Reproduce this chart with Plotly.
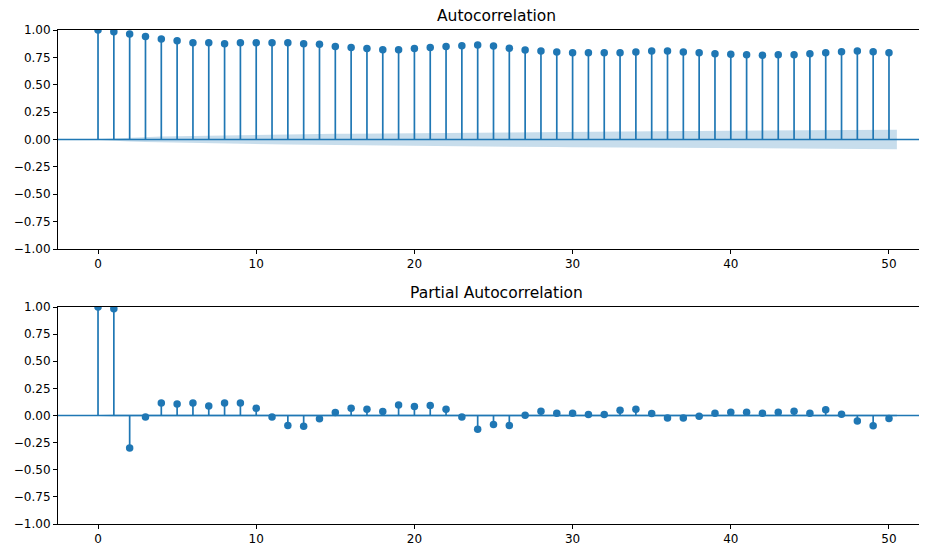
import plotly.graph_objects as go

# ---------------- data ----------------
lags = list(range(0, 51))

acf_values = [
    1.000, 0.985, 0.963, 0.940, 0.918, 0.902, 0.884, 0.884, 0.875, 0.884,
    0.884, 0.884, 0.884, 0.875, 0.870, 0.850, 0.840, 0.830, 0.820, 0.820,
    0.830, 0.840, 0.850, 0.857, 0.863, 0.854, 0.833, 0.817, 0.808, 0.800,
    0.793, 0.793, 0.793, 0.793, 0.800, 0.808, 0.808, 0.800, 0.793, 0.784,
    0.778, 0.775, 0.769, 0.775, 0.775, 0.784, 0.793, 0.802, 0.808, 0.802,
    0.793,
]

# half-width of the shaded confidence band
acf_band = [
    0.0000, 0.0105, 0.0181, 0.0231, 0.0270, 0.0303, 0.0331, 0.0356, 0.0380, 0.0402,
    0.0423, 0.0443, 0.0462, 0.0480, 0.0498, 0.0514, 0.0530, 0.0544, 0.0558, 0.0571,
    0.0584, 0.0597, 0.0610, 0.0623, 0.0636, 0.0649, 0.0661, 0.0673, 0.0684, 0.0694,
    0.0705, 0.0714, 0.0724, 0.0734, 0.0743, 0.0753, 0.0762, 0.0772, 0.0781, 0.0790,
    0.0798, 0.0807, 0.0815, 0.0823, 0.0831, 0.0839, 0.0847, 0.0855, 0.0864, 0.0872,
    0.0880,
]

pacf_values = [
    1.000, 0.985, -0.300, -0.013, 0.116, 0.107, 0.116, 0.088, 0.116, 0.116,
    0.067, -0.013, -0.092, -0.100, -0.031, 0.028, 0.067, 0.058, 0.037, 0.097,
    0.083, 0.092, 0.058, -0.013, -0.126, -0.083, -0.092, 0.003, 0.040, 0.021,
    0.021, 0.009, 0.009, 0.049, 0.058, 0.018, -0.022, -0.022, -0.006, 0.021,
    0.030, 0.030, 0.021, 0.030, 0.040, 0.021, 0.052, 0.012, -0.050, -0.095,
    -0.028,
]

pacf_band = [0.0] + [0.0105] * 50

x_ticks = [0, 10, 20, 30, 40, 50]
y_ticks = [-1.0, -0.75, -0.5, -0.25, 0.0, 0.25, 0.5, 0.75, 1.0]
titles = ["Autocorrelation", "Partial Autocorrelation"]

# ---------------- style ----------------
BLUE = "#1f77b4"
BAND = "rgba(31,119,180,0.25)"
FONT = "DejaVu Sans"
XMIN, XMAX = -2.53, 52.34
OFF = 8                      # page body margin of the html page
W, H = 927 - OFF, 546 - OFF
M_L, M_R, M_T, M_B = 58 - OFF, 1, 30 - OFF, 22

fig = go.Figure()


def band_x():
    xs = [float(v) for v in lags]
    xs[0] -= 0.5
    xs[-1] += 0.5
    return xs


def add_panel(values, band, xa, ya):
    # stems
    sx, sy = [], []
    for lag, v in zip(lags, values):
        sx += [lag, lag, None]
        sy += [0, v, None]
    fig.add_trace(go.Scatter(x=sx, y=sy, mode="lines",
                             line=dict(color=BLUE, width=1.7),
                             xaxis=xa, yaxis=ya, hoverinfo="skip",
                             showlegend=False))
    # confidence band
    bx = band_x()
    fig.add_trace(go.Scatter(x=bx + bx[::-1],
                             y=band + [-b for b in band[::-1]],
                             fill="toself", fillcolor=BAND,
                             line=dict(width=0), mode="lines",
                             xaxis=xa, yaxis=ya, hoverinfo="skip",
                             showlegend=False))
    # zero line
    fig.add_trace(go.Scatter(x=[XMIN, XMAX], y=[0, 0], mode="lines",
                             line=dict(color=BLUE, width=1.5),
                             xaxis=xa, yaxis=ya, hoverinfo="skip",
                             showlegend=False))
    # markers
    fig.add_trace(go.Scatter(x=lags, y=values, mode="markers",
                             marker=dict(color=BLUE, size=7.5,
                                         line=dict(width=0)),
                             xaxis=xa, yaxis=ya, showlegend=False))


add_panel(acf_values, acf_band, "x", "y")
add_panel(pacf_values, pacf_band, "x2", "y2")

plot_h = H - M_T - M_B
plot_bottom = H - M_B            # in figure pixels
top_lo = (plot_bottom - (249 - OFF)) / plot_h
bot_hi = (plot_bottom - (307 - OFF)) / plot_h

axis_common = dict(
    showgrid=False, zeroline=False, showline=True, linecolor="black",
    linewidth=1, ticks="outside", ticklen=4, tickwidth=1, tickcolor="black",
    tickfont=dict(family=FONT, size=12, color="black"), automargin=False,
)

fig.update_layout(
    width=W, height=H,
    margin=dict(l=M_L, r=M_R, t=M_T, b=M_B, pad=0),
    paper_bgcolor="white", plot_bgcolor="white",
    font=dict(family=FONT, size=12, color="black"),
    xaxis=dict(domain=[0, 1], range=[XMIN, XMAX], tickvals=x_ticks,
               anchor="y", mirror=True, **axis_common),
    yaxis=dict(domain=[top_lo, 1], range=[-1, 1], tickvals=y_ticks,
               tickformat=".2f", anchor="x", mirror=False, **axis_common),
    xaxis2=dict(domain=[0, 1], range=[XMIN, XMAX], tickvals=x_ticks,
                anchor="y2", mirror=True, **axis_common),
    yaxis2=dict(domain=[0, bot_hi], range=[-1, 1], tickvals=y_ticks,
                tickformat=".2f", anchor="x2", mirror=False, **axis_common),
    showlegend=False,
)

title_x = (497 - 58) / (W - M_L - M_R)
fig.add_annotation(text=titles[0], xref="paper", yref="paper",
                   x=title_x, y=1, xanchor="center", yanchor="bottom",
                   yshift=3, showarrow=False,
                   font=dict(family=FONT, size=15.5, color="black"))
fig.add_annotation(text=titles[1], xref="paper", yref="paper",
                   x=title_x, y=bot_hi, xanchor="center", yanchor="bottom",
                   yshift=3, showarrow=False,
                   font=dict(family=FONT, size=15.5, color="black"))

fig.write_html("out.html")
